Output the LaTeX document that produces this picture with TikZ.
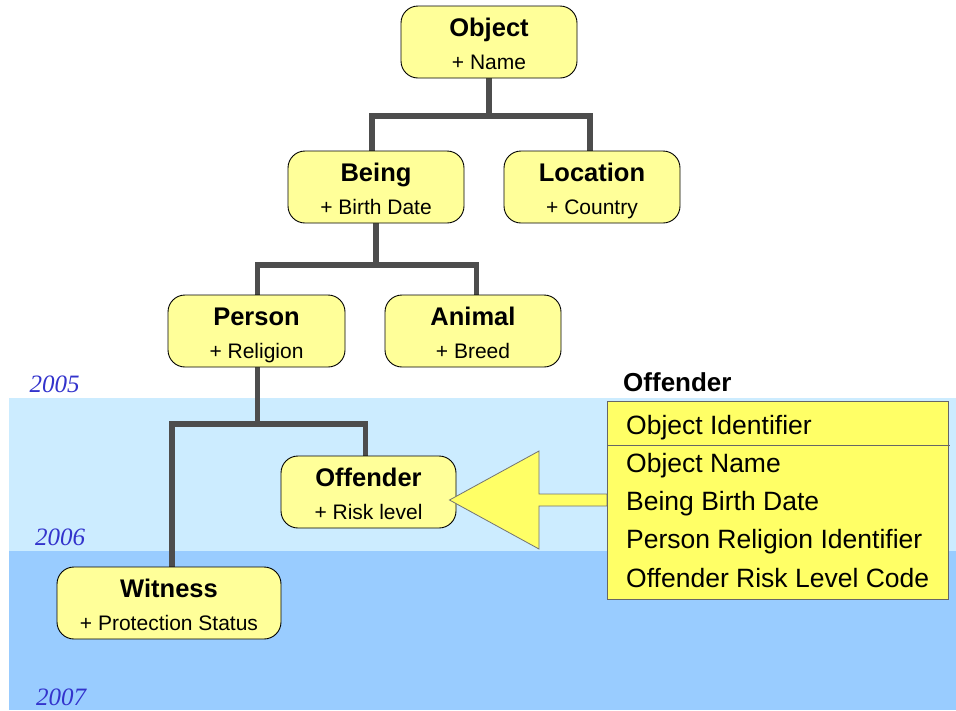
\documentclass[tikz,border=0pt]{standalone}
\usepackage{fontspec}
\setmainfont{Liberation Sans}
\newfontfamily\yearfont{Liberation Serif}
\usetikzlibrary{backgrounds}

\definecolor{bandlight}{HTML}{CCECFF}
\definecolor{banddark}{HTML}{99CCFF}
\definecolor{boxfill}{HTML}{FFFF99}
\definecolor{tblfill}{HTML}{FFFF66}
\definecolor{connc}{HTML}{4D4D4D}
\definecolor{yearc}{RGB}{51,51,204}

\tikzset{
  cbox/.style={draw=black, line width=0.9pt, fill=boxfill, rounded corners=17pt,
    minimum height=72pt, inner sep=0pt, outer sep=0pt},
  ctitle/.style={inner sep=0pt, font=\fontsize{25.5}{30}\selectfont\bfseries},
  csub/.style={inner sep=0pt, font=\fontsize{21}{25}\selectfont},
  conn/.style={draw=connc, line width=5.5pt, line join=miter},
  yearlbl/.style={inner sep=0pt, anchor=base west, text=yearc,
    font=\fontsize{25}{30}\selectfont\yearfont\itshape},
  rowtxt/.style={inner sep=0pt, anchor=base west, font=\fontsize{26.5}{31}\selectfont},
  tblhead/.style={inner sep=0pt, anchor=base west, font=\fontsize{26}{31}\selectfont\bfseries},
  tblbox/.style={draw=black!60, line width=1pt, fill=tblfill, inner sep=0pt, outer sep=0pt,
    minimum width=341pt, minimum height=198pt, anchor=north west},
  fatarrow/.style={fill=tblfill, draw=black!55, line width=0.8pt, line join=miter},
}

% a class box: name, left, top, width, title, attribute
\newcommand\umlbox[6]{%
  \node[cbox, minimum width=#4pt, anchor=north west] (#1) at (#2,#3) {};
  \node[ctitle, anchor=base] (#1-t) at ([yshift=-30.5pt]#1.north) {#5};
  \node[csub, anchor=base] (#1-s) at ([yshift=-63.5pt]#1.north) {#6};
}

\begin{document}
\begin{tikzpicture}[x=1pt, y=-1pt]
\useasboundingbox (0,0) rectangle (956,710);

% year bands
\begin{scope}[on background layer]
\fill[bandlight] (9,398) rectangle (956,551);
\fill[banddark] (9,551) rectangle (956,710);
\end{scope}
\node[yearlbl] (y2005) at (29.5,392.5) {2005};
\node[yearlbl] (y2006) at (35,545) {2006};
\node[yearlbl] (y2007) at (36,705) {2007};

% class boxes
\umlbox{obj}{401}{6}{176}{Object}{+ Name}
\umlbox{being}{288}{151}{176}{Being}{+ Birth Date}
\umlbox{loc}{504}{151}{176}{Location}{+ Country}
\umlbox{person}{168}{295}{177}{Person}{+ Religion}
\umlbox{animal}{385}{295}{176}{Animal}{+ Breed}
\umlbox{off}{281}{456}{175}{Offender}{+ Risk level}
\umlbox{wit}{57}{567}{224}{Witness}{+ Protection Status}

% inheritance connectors, drawn beneath the boxes
\path (obj.south) ++(0,38) coordinate (bus1);
\coordinate (beingIn) at ([xshift=-4pt]being.north);
\coordinate (locIn) at ([xshift=-2pt]loc.north);
\path (being.south) ++(0,42) coordinate (bus2);
\coordinate (personIn) at ([xshift=1pt]person.north);
\coordinate (animalIn) at ([xshift=3.5pt]animal.north);
\coordinate (personOut) at ([xshift=1pt]person.south);
\path (personOut) ++(0,57) coordinate (bus3);
\coordinate (offIn) at ([xshift=-3pt]off.north);
\coordinate (witIn) at ([xshift=3pt]wit.north);
\begin{scope}[on background layer]
\draw[conn] (obj.south) -- (bus1);
\draw[conn] (beingIn) |- (bus1 -| locIn) -- (locIn);
\draw[conn] (being.south) -- (bus2);
\draw[conn] (personIn) |- (bus2 -| animalIn) -- (animalIn);
\draw[conn] (personOut) -- (bus3);
\draw[conn] (witIn) |- (bus3 -| offIn) -- (offIn);
\end{scope}

% attribute table
\node[tblhead] (thead) at (623,391.5) {Offender};
\node[tblbox] (tbl) at (607,401) {};
\path (tbl.north west) ++(0,44) coordinate (sepL);
\path (tbl.north east) ++(2,44) coordinate (sepR);
\draw[draw=black!60, line width=1pt] (sepL) -- (sepR);
\node[rowtxt] (r1) at (626,434) {Object Identifier};
\node[rowtxt] (r2) at (626,472.3) {Object Name};
\node[rowtxt] (r3) at (626,510.6) {Being Birth Date};
\node[rowtxt] (r4) at (626,548.9) {Person Religion Identifier};
\node[rowtxt] (r5) at (626,587.2) {Offender Risk Level Code};

% mapping arrow from the table to the class
\coordinate (tip) at ([xshift=-6.5pt,yshift=-8pt]off.east);
\filldraw[fatarrow] (tip) -- (539,451) -- (539,494) -- (tbl.west |- 0,494)
  -- (tbl.west |- 0,506) -- (539,506) -- (539,549) -- cycle;
\draw[draw=black!60, line width=1pt] (tbl.north west) -- (tbl.south west);

\end{tikzpicture}
\end{document}
